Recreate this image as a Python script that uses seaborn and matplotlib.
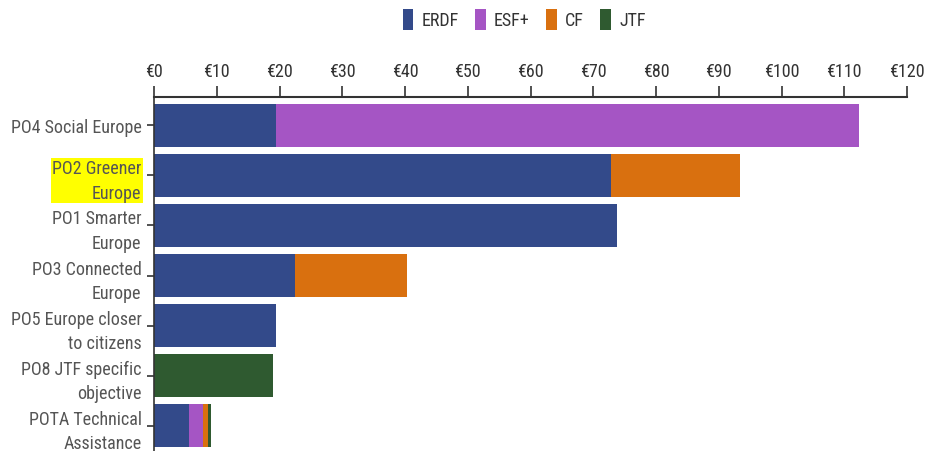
import matplotlib
matplotlib.use("Agg")
import matplotlib.pyplot as plt
import seaborn as sns
import pandas as pd
import numpy as np
from matplotlib.patches import Patch
from matplotlib import font_manager as fm

categories = ["PO4 Social Europe", "PO2 Greener\nEurope", "PO1 Smarter\nEurope",
              "PO3 Connected\nEurope", "PO5 Europe closer\nto citizens",
              "PO8 JTF specific\nobjective", "POTA Technical\nAssistance"]
series = ["ERDF", "ESF+", "CF", "JTF"]
erdf = [19.4, 72.8, 73.8, 22.5, 19.4, 0.0, 5.6]
esf = [92.9, 0.0, 0.0, 0.0, 0.0, 0.0, 2.2]
cf = [0.0, 20.6, 0.0, 17.8, 0.0, 0.0, 0.8]
jtf = [0.0, 0.0, 0.0, 0.0, 0.0, 19.0, 0.4]
tick_values = [0, 10, 20, 30, 40, 50, 60, 70, 80, 90, 100, 110, 120]
tick_labels = ["€" + str(v) for v in tick_values]
colors = {"ERDF": "#334a8a", "ESF+": "#a555c4", "CF": "#d9700f", "JTF": "#2f5a30"}

sns.set_theme(style="white")

# pick a condensed font if one is installed
font_kw = None
for fam in ["Liberation Sans Narrow", "Roboto Condensed", "Open Sans Condensed", "DejaVu Sans"]:
    try:
        path = fm.findfont(fm.FontProperties(family=fam, stretch="condensed"), fallback_to_default=False)
        if "ondensed" in path or "arrow" in path:
            font_kw = dict(family=[fam, "DejaVu Sans"], stretch="condensed")
            break
    except Exception:
        pass
if font_kw is None:
    plt.rcParams['font.family'] = ['DejaVu Sans']
    ylab_size, xlab_size, leg_size = 10.3, 10.5, 10.5
else:
    plt.rcParams['font.family'] = font_kw["family"]
    plt.rcParams['font.stretch'] = "condensed"
    ylab_size, xlab_size, leg_size = 13, 13, 13

df = pd.DataFrame({"category": categories, "ERDF": erdf, "ESF+": esf, "CF": cf, "JTF": jtf})
cum = df[series].cumsum(axis=1)

fig = plt.figure(figsize=(9.41, 4.52), dpi=100)
ax = fig.add_axes([0.1637, 0.0, 0.8002, 0.7832])

for s in reversed(series):
    sns.barplot(x=cum[s], y=df["category"], orient="h", color=colors[s],
                width=0.86, ax=ax, saturation=1, linewidth=0)

ax.set_xlim(0, 120)
ax.set_ylim(6.5, -0.56)
ax.set_xlabel("")
ax.set_ylabel("")
ax.xaxis.tick_top()
ax.set_xticks(tick_values)
ax.set_xticklabels(tick_labels, fontsize=xlab_size, color="#333333")
ax.tick_params(axis="x", direction="out", length=8, width=1.2, color="#333333", pad=4, top=True, bottom=False)
ax.tick_params(axis="y", direction="out", length=5, width=1.2, color="#333333", pad=4, left=True)
ax.set_yticks(range(len(categories)))
ax.set_yticklabels(categories, fontsize=ylab_size, color="#555555", linespacing=1.45)
for lbl in ax.get_yticklabels():
    if lbl.get_text().startswith("PO2"):
        lbl.set_bbox(dict(facecolor="#ffff00", edgecolor="none", pad=1))
for side in ["right", "bottom"]:
    ax.spines[side].set_visible(False)
ax.spines["top"].set_color("#333333")
ax.spines["top"].set_linewidth(1.5)
ax.spines["left"].set_color("#333333")
ax.spines["left"].set_linewidth(1.2)

handles = [Patch(facecolor=colors[s], edgecolor="none", label=s) for s in series]
fig.legend(handles=handles, loc="center", bbox_to_anchor=(0.557, 0.955), ncol=4,
           frameon=False, fontsize=leg_size, handlelength=0.6, handleheight=1.4,
           handletextpad=0.45, columnspacing=0.9, labelcolor="#333333")

fig.savefig("out.png", dpi=100)
